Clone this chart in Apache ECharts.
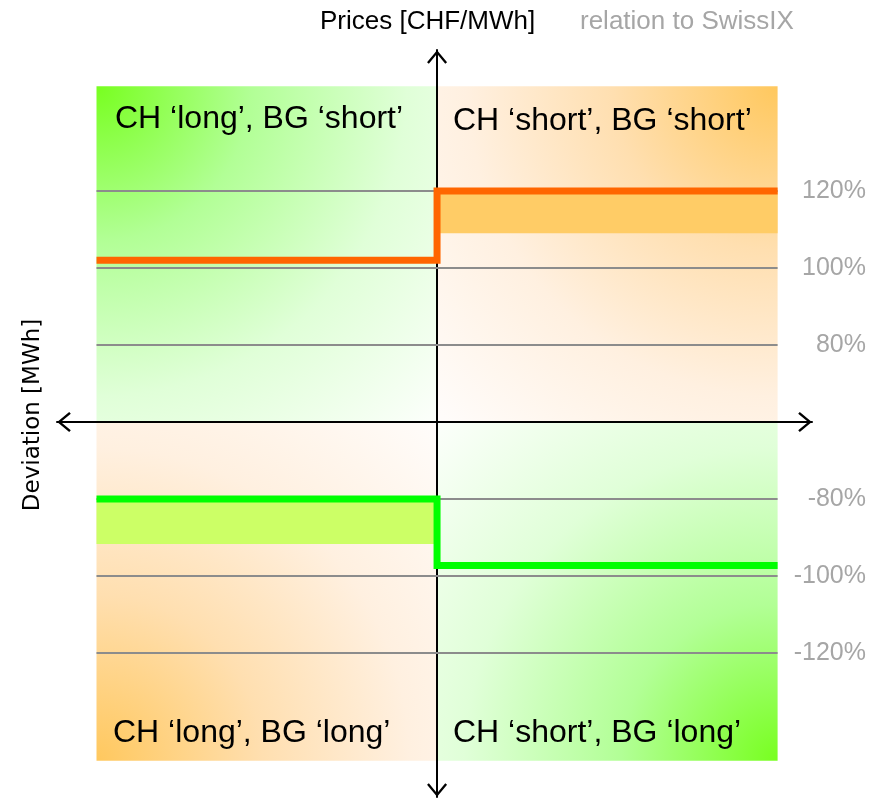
<!DOCTYPE html>
<html><head><meta charset="utf-8">
<script src="https://cdn.jsdelivr.net/npm/echarts@6/dist/echarts.min.js"></script>
<style>html,body{margin:0;padding:0;background:#fff}#chart{width:875px;height:799px}</style>
</head><body><div id="chart"></div>
<script>
// ---- data ----
const sides = [-1, 0, 1];                 // left edge, price axis, right edge (deviation)
const priceLine = [102, 120, 120];        // % relation to SwissIX (positive prices)
const negLine = [-80, -97.3, -97.3];      // % relation to SwissIX (negative prices)
const priceBand = [120, 109];             // orange band (right side)
const negBand = [-80, -91.7];             // green band (left side)
const tickPct = [120, 100, 80, -80, -100, -120];
const tickLabels = ['120%', '100%', '80%', '-80%', '-100%', '-120%'];
const quadrantLabels = ['CH ‘long’, BG ‘short’', 'CH ‘short’, BG ‘short’', 'CH ‘long’, BG ‘long’', 'CH ‘short’, BG ‘long’'];
const yTitle = 'Prices [CHF/MWh]';
const refTitle = 'relation to SwissIX';
const xTitle = 'Deviation [MWh]';

// broken percent scale: 80% sits one unit from the axis, 20% per unit beyond
function u(p) { const s = p < 0 ? -1 : 1; return s * (1 + (Math.abs(p) - 80) / 20); }

const Y_MIN = -4.87, Y_MAX = 4.83, X_MIN = -1.116, X_MAX = 1.101;
const BG_TOP = 4.36, BG_BOT = -4.4;

const chevron = 'path://M10,0 L20,12 L18.2,13.6 L10,3.6 L1.8,13.6 L0,12 Z';
const font = 'Liberation Sans';

function rad(x, y, r, stops) {
  return { type: 'radial', x: x, y: y, r: r, colorStops: stops.map(s => ({ offset: s[0], color: s[1] })) };
}
const greenStops = [[0, '#78ff20'], [0.33, '#b2ff96'], [0.66, '#e0ffd8'], [1, '#fbfffa']];
const orangeStops = [[0, '#ffc85e'], [0.35, '#ffdfb0'], [0.66, '#fff0e0'], [1, '#fffcfa']];

const option = {
  animation: false,
  grid: { left: 57, right: 63, top: 50, bottom: 2, outerBoundsMode: 'none' },
  xAxis: {
    type: 'value', min: X_MIN, max: X_MAX, z: 4,
    axisLine: { show: true, onZero: true, lineStyle: { color: '#000', width: 2 },
      symbol: [chevron, chevron], symbolSize: [20, 14], symbolOffset: [7, -7] },
    axisTick: { show: false }, axisLabel: { show: false }, splitLine: { show: false }
  },
  yAxis: [{
    type: 'value', min: Y_MIN, max: Y_MAX, z: 4,
    axisLine: { show: true, onZero: true, lineStyle: { color: '#000', width: 2 },
      symbol: [chevron, chevron], symbolSize: [20, 14], symbolOffset: [7, -7] },
    axisTick: { show: false }, axisLabel: { show: false }, splitLine: { show: false }
  }, {
    type: 'value', min: Y_MIN, max: Y_MAX, position: 'right',
    axisLine: { show: false, onZero: false }, axisTick: { show: false }, splitLine: { show: false },
    axisLabel: {
      customValues: tickPct.map(u), align: 'right', margin: 54,
      color: '#a6a6a6', fontSize: 25, fontFamily: font,
      formatter: function (v) {
        let best = 0;
        tickPct.forEach((p, i) => { if (Math.abs(u(p) - v) < Math.abs(u(tickPct[best]) - v)) best = i; });
        return tickLabels[best];
      }
    }
  }],
  graphic: [
    { type: 'text', x: 115, y: 119, style: { text: quadrantLabels[0], fontSize: 32, fontFamily: font, fill: '#000', verticalAlign: 'middle' }, z: 10 },
    { type: 'text', x: 453, y: 121, style: { text: quadrantLabels[1], fontSize: 32, fontFamily: font, fill: '#000', verticalAlign: 'middle' }, z: 10 },
    { type: 'text', x: 113, y: 733, style: { text: quadrantLabels[2], fontSize: 32, fontFamily: font, fill: '#000', verticalAlign: 'middle' }, z: 10 },
    { type: 'text', x: 453, y: 733, style: { text: quadrantLabels[3], fontSize: 32, fontFamily: font, fill: '#000', verticalAlign: 'middle' }, z: 10 },
    { type: 'text', x: 320, y: 22, style: { text: yTitle, fontSize: 26, fontFamily: font, fill: '#000', verticalAlign: 'middle' }, z: 10 },
    { type: 'text', x: 580, y: 22, style: { text: refTitle, fontSize: 26, fontFamily: font, fill: '#a6a6a6', verticalAlign: 'middle' }, z: 10 },
    { type: 'text', x: 33, y: 415, rotation: Math.PI / 2, style: { text: xTitle, fontSize: 23, fontFamily: 'DejaVu Sans', fill: '#000', align: 'center', verticalAlign: 'middle' }, z: 10 }
  ],
  series: [
    { // quadrant backgrounds
      type: 'line', data: [[0, 0]], showSymbol: false, lineStyle: { opacity: 0 }, z: 1, silent: true,
      markArea: { silent: true, label: { show: false },
        data: [
          [{ coord: [sides[0], 0], itemStyle: { color: rad(0, 0, 1.4, greenStops) } }, { coord: [sides[1], BG_TOP] }],
          [{ coord: [sides[1], 0], itemStyle: { color: rad(1, 0, 1.4, orangeStops) } }, { coord: [sides[2], BG_TOP] }],
          [{ coord: [sides[0], BG_BOT], itemStyle: { color: rad(0, 1, 1.4, orangeStops) } }, { coord: [sides[1], 0] }],
          [{ coord: [sides[1], BG_BOT], itemStyle: { color: rad(1, 1, 1.4, greenStops) } }, { coord: [sides[2], 0] }]
        ] }
    },
    { // grid lines
      type: 'line', data: [[0, 0]], showSymbol: false, lineStyle: { opacity: 0 }, z: 2, silent: true,
      markLine: { silent: true, symbol: ['none', 'none'], label: { show: false },
        lineStyle: { color: '#8c8c8c', width: 2, type: 'solid' },
        data: tickPct.map(p => [{ coord: [sides[0], u(p)] }, { coord: [sides[2], u(p)] }]) }
    },
    { // bands
      type: 'line', data: [[0, 0]], showSymbol: false, lineStyle: { opacity: 0 }, z: 3, silent: true,
      markArea: { silent: true, label: { show: false },
        data: [
          [{ coord: [sides[1], u(priceBand[0])], itemStyle: { color: '#ffcc66', opacity: 1 } }, { coord: [sides[2], u(priceBand[1])] }],
          [{ coord: [sides[0], u(negBand[0])], itemStyle: { color: '#ccff66', opacity: 1 } }, { coord: [sides[1], u(negBand[1])] }]
        ] }
    },
    {
      type: 'line', step: 'end', z: 5, symbol: 'none', silent: true,
      data: sides.map((x, i) => [x, u(priceLine[i])]),
      lineStyle: { color: '#ff6600', width: 7, cap: 'butt', join: 'miter' }
    },
    {
      type: 'line', step: 'end', z: 5, symbol: 'none', silent: true,
      data: sides.map((x, i) => [x, u(negLine[i])]),
      lineStyle: { color: '#00ff00', width: 7, cap: 'butt', join: 'miter' }
    }
  ]
};
const chart = echarts.init(document.getElementById('chart'));
chart.setOption(option);
</script></body></html>
